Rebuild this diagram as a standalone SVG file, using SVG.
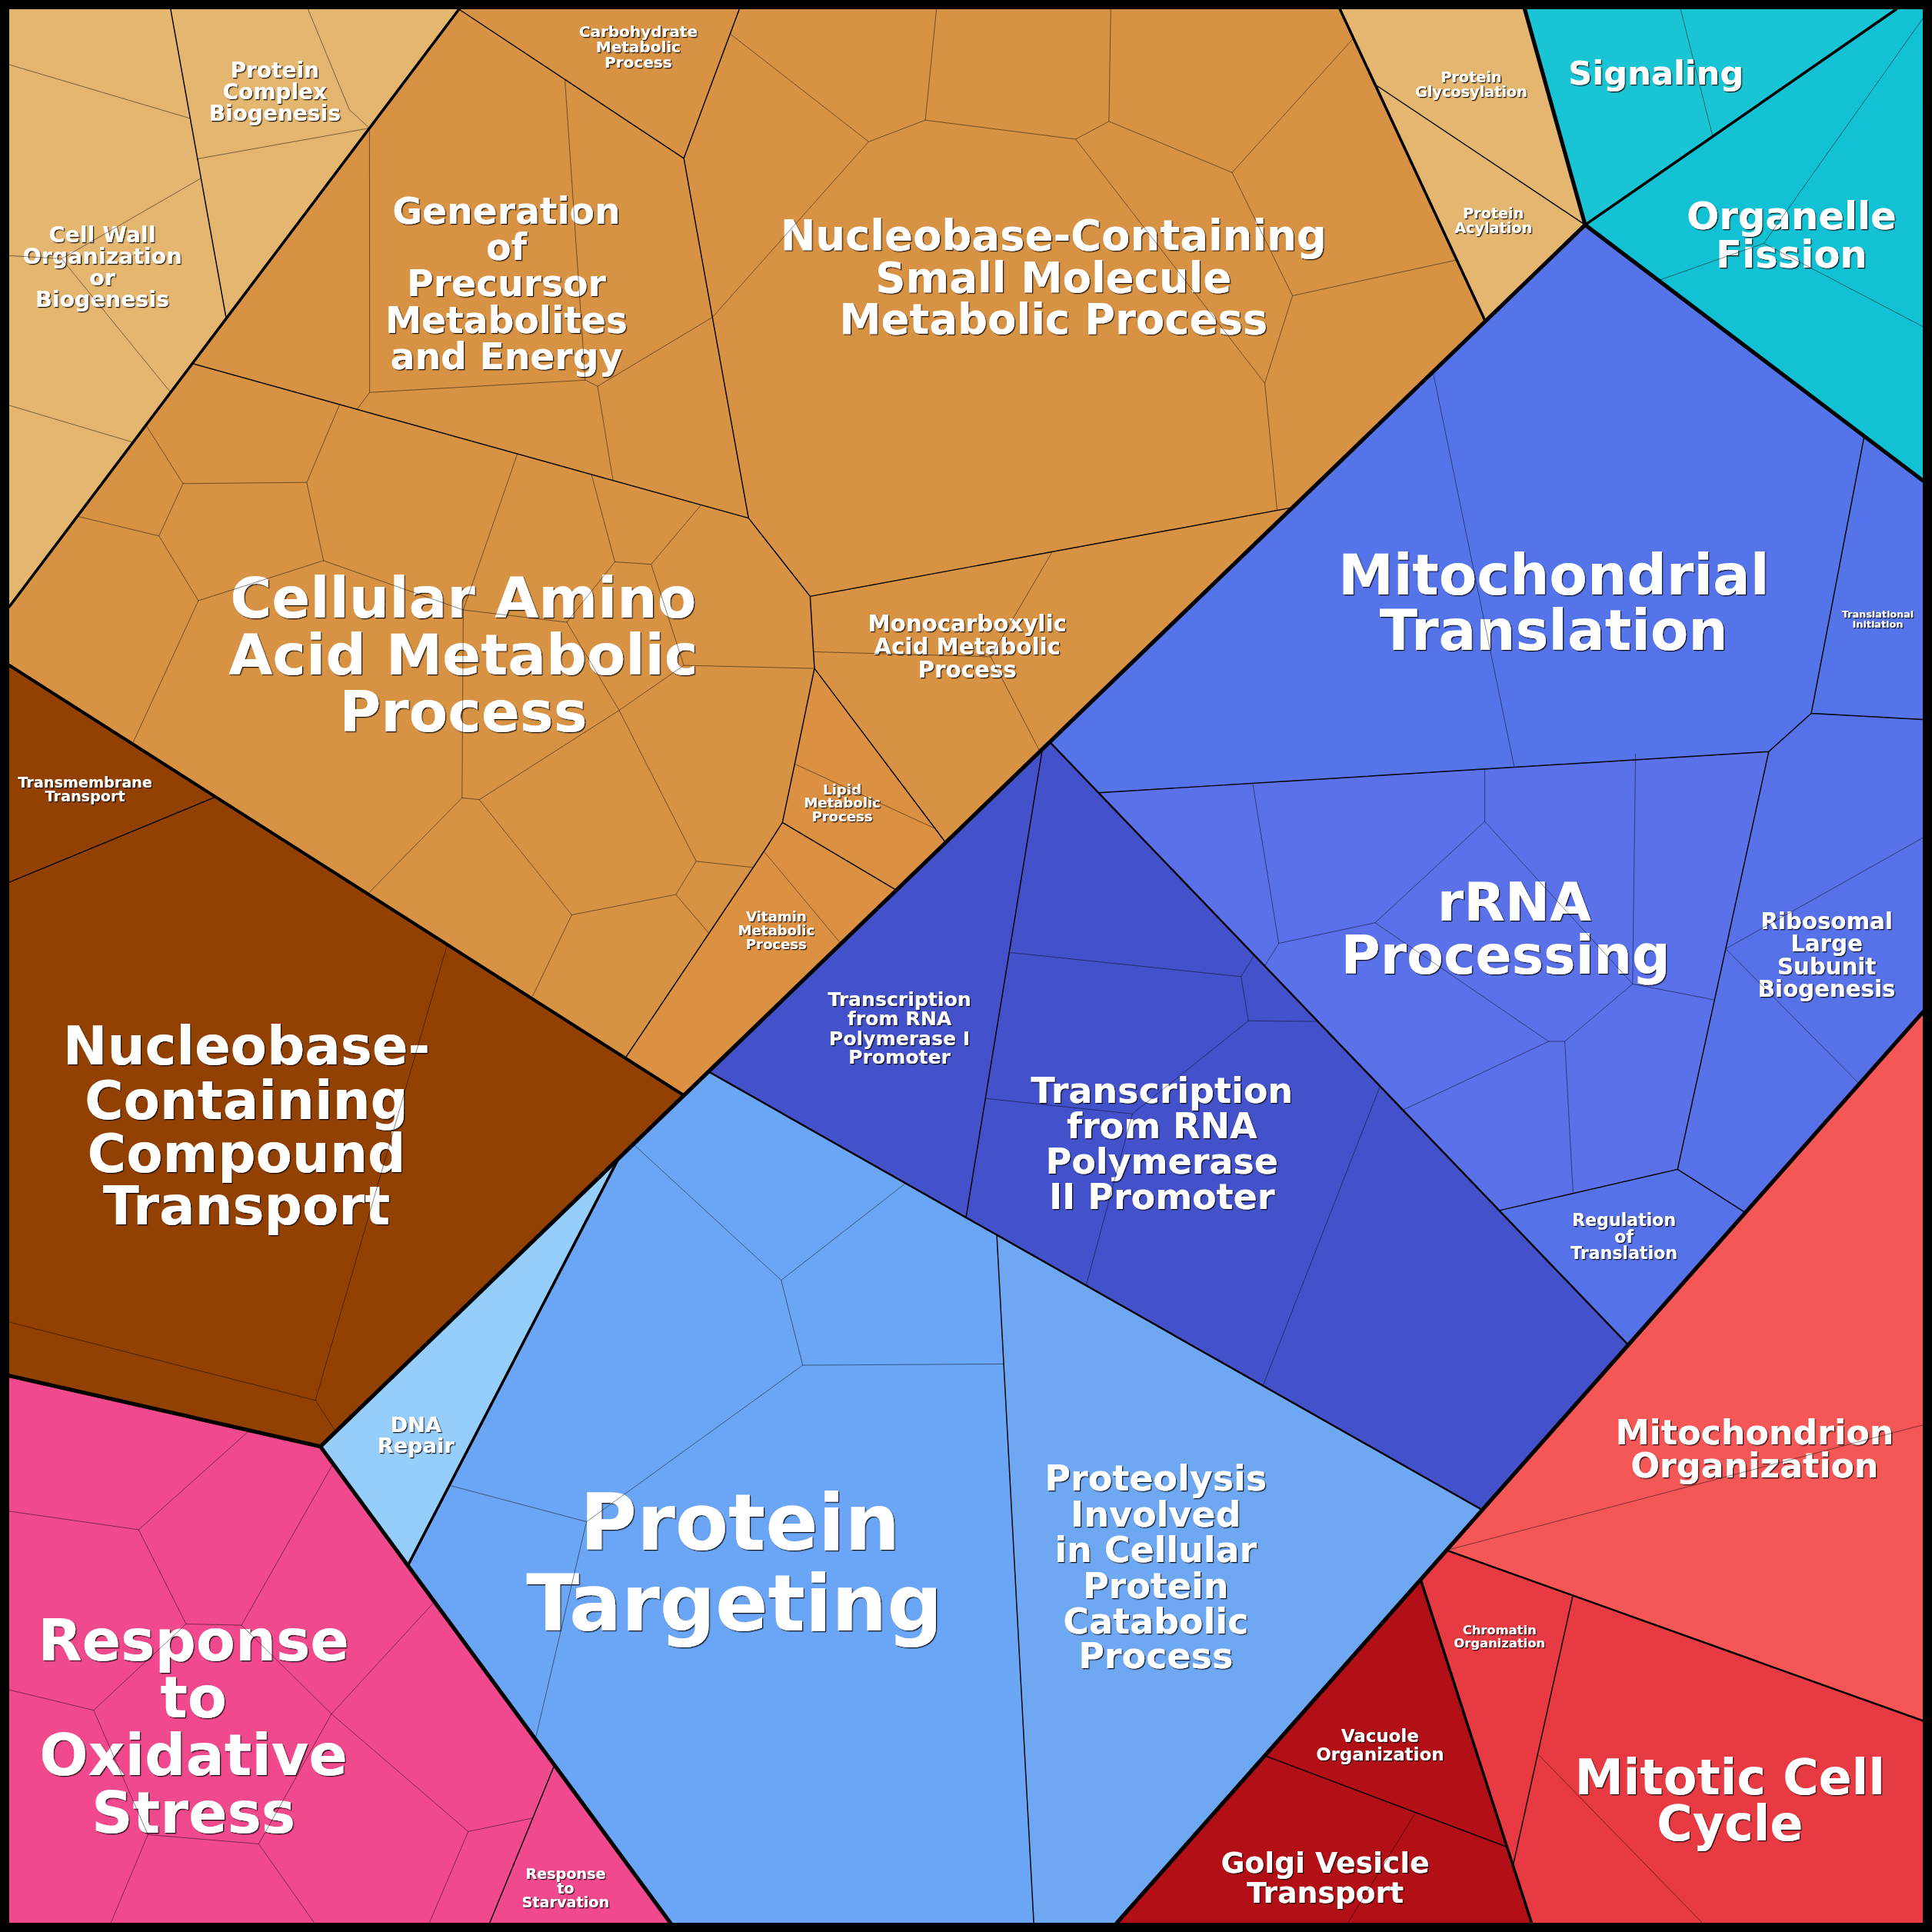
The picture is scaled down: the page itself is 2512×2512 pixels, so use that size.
<svg xmlns="http://www.w3.org/2000/svg" width="2512" height="2512" viewBox="0 0 2512 2512">
<defs>
<filter id="sh" x="-10%" y="-20%" width="125%" height="150%"><feDropShadow dx="0.8" dy="0.8" stdDeviation="0.3" flood-color="#000" flood-opacity="0.85"/></filter>
<style>
.b{fill:none;stroke:#000;stroke-linejoin:round;stroke-linecap:round}
.w1{stroke-width:3.2}
.w2{stroke-width:2.2}
.w15{stroke-width:1.5}
.w3{stroke-width:0.9}
.w4{stroke-width:0.4;stroke-opacity:0.75}
.lb{font-family:"DejaVu Sans",Verdana,sans-serif;font-weight:bold;fill:#fff;text-anchor:middle;filter:url(#sh)}
</style>
</defs>
<g transform="scale(1.6020408)">
<rect x="0" y="0" width="1568" height="1568" fill="#D89244"/>

<g id="tan-left">
<polygon points="7.5,7.5 372.5,7.5 7.5,492.5" fill="#E4B66F"/>
<text class="lb" font-size="17.5" x="223"><tspan x="223" y="63">Protein</tspan><tspan x="223" y="80.5">Complex</tspan><tspan x="223" y="98">Biogenesis</tspan></text>
<text class="lb" font-size="17.8" x="83"><tspan x="83" y="196.5">Cell Wall</tspan><tspan x="83" y="214">Organization</tspan><tspan x="83" y="231.5">or</tspan><tspan x="83" y="249">Biogenesis</tspan></text>
</g>

<g id="orange">
<polygon points="661,542.5 767.5,683.8 727.5,722.4 635,667.5 645,620" fill="#DC9142"/>
<polygon points="620,691 635,667.5 727.5,722.4 555,889 507.5,858.7" fill="#DC9142"/>
<text class="lb" font-size="29.5"><tspan x="411" y="181.5">Generation</tspan><tspan x="411" y="211">of</tspan><tspan x="411" y="240.5">Precursor</tspan><tspan x="411" y="270">Metabolites</tspan><tspan x="411" y="299.5">and Energy</tspan></text>
<text class="lb" font-size="12.5"><tspan x="518" y="30">Carbohydrate</tspan><tspan x="518" y="42.5">Metabolic</tspan><tspan x="518" y="55">Process</tspan></text>
<text class="lb" font-size="34"><tspan x="855" y="203">Nucleobase-Containing</tspan><tspan x="855" y="237">Small Molecule</tspan><tspan x="855" y="271">Metabolic Process</tspan></text>
<text class="lb" font-size="46"><tspan x="376" y="501.5">Cellular Amino</tspan><tspan x="376" y="547.5">Acid Metabolic</tspan><tspan x="376" y="593.5">Process</tspan></text>
<text class="lb" font-size="18.3"><tspan x="785" y="512.5">Monocarboxylic</tspan><tspan x="785" y="531.5">Acid Metabolic</tspan><tspan x="785" y="550">Process</tspan></text>
<text class="lb" font-size="11.3"><tspan x="683.5" y="644.5">Lipid</tspan><tspan x="683.5" y="655.7">Metabolic</tspan><tspan x="683.5" y="666.9">Process</tspan></text>
<text class="lb" font-size="11.3"><tspan x="630" y="747.6">Vitamin</tspan><tspan x="630" y="758.8">Metabolic</tspan><tspan x="630" y="770.2">Process</tspan></text>
</g>

<g id="tan-right">
<polygon points="1087.5,7.5 1237.5,7.5 1286.5,182.5 1205.5,260.7" fill="#E4B66F"/>
<text class="lb" font-size="12"><tspan x="1194" y="66.5">Protein</tspan><tspan x="1194" y="78.5">Glycosylation</tspan></text>
<text class="lb" font-size="12"><tspan x="1212" y="177">Protein</tspan><tspan x="1212" y="189">Acylation</tspan></text>
</g>

<g id="cyan">
<polygon points="1237.5,7.5 1539,7.5 1286.5,182.5" fill="#19C5D4"/>
<polygon points="1539,7.5 1560.5,7.5 1560.5,390 1286.5,182.5" fill="#12C1D3"/>
<text class="lb" font-size="27" x="1344" y="68.5">Signaling</text>
<text class="lb" font-size="31"><tspan x="1454" y="186">Organelle</tspan><tspan x="1454" y="217.5">Fission</tspan></text>
</g>

<g id="translation">
<polygon points="1286.5,182.5 1560.5,390 1560.5,821.5 1321.5,1091.6 852,602.2" fill="#5574E9"/>
<polygon points="891.5,643.4 1435.5,610 1361.5,949 1217,982.4" fill="#5A71EA"/>
<polygon points="1435.5,610 1470,579 1560.5,584 1560.5,821.5 1416.5,984.2 1361.5,949" fill="#5771E8"/>
<polygon points="1217,982.4 1361.5,949 1416.5,984.2 1321.5,1091.6" fill="#5672E8"/>
<text class="lb" font-size="45"><tspan x="1261" y="482.5">Mitochondrial</tspan><tspan x="1261" y="527.5">Translation</tspan></text>
<text class="lb" font-size="8"><tspan x="1524" y="501">Translational</tspan><tspan x="1524" y="509.5">Initiation</tspan></text>
<text class="lb" font-size="43.5"><tspan x="1229" y="747">rRNA</tspan><tspan x="1222" y="790.5">Processing</tspan></text>
<text class="lb" font-size="18.3"><tspan x="1482.5" y="754">Ribosomal</tspan><tspan x="1482.5" y="772.3">Large</tspan><tspan x="1482.5" y="790.6">Subunit</tspan><tspan x="1482.5" y="809">Biogenesis</tspan></text>
<text class="lb" font-size="13.8"><tspan x="1318" y="995">Regulation</tspan><tspan x="1318" y="1008.5">of</tspan><tspan x="1318" y="1022">Translation</tspan></text>
</g>

<g id="transcription">
<polygon points="852,602.2 1321.5,1091.6 1203,1225.5 575,869.7" fill="#4352CB"/>
<text class="lb" font-size="15.7"><tspan x="730" y="816.5">Transcription</tspan><tspan x="730" y="832.3">from RNA</tspan><tspan x="730" y="848">Polymerase I</tspan><tspan x="730" y="863.5">Promoter</tspan></text>
<text class="lb" font-size="28.7"><tspan x="943" y="895">Transcription</tspan><tspan x="943" y="924">from RNA</tspan><tspan x="943" y="952.5">Polymerase</tspan><tspan x="943" y="981.5">II Promoter</tspan></text>
</g>

<g id="protein">
<polygon points="575,869.7 1203,1225.5 906.5,1560.5 544,1560.5 260,1174 555,889" fill="#6AA6F5"/>
<polygon points="809,1002.3 1203,1225.5 906.5,1560.5 839,1560.5" fill="#6EA8F3"/>
<polygon points="502,940.2 331,1270.6 260,1174" fill="#95CDFB"/>
<text class="lb" font-size="17"><tspan x="337.5" y="1162.5">DNA</tspan><tspan x="337.5" y="1179">Repair</tspan></text>
<text class="lb" font-size="63"><tspan x="600.5" y="1258">Protein</tspan><tspan x="596" y="1323">Targeting</tspan></text>
<text class="lb" font-size="28.7"><tspan x="938" y="1210">Proteolysis</tspan><tspan x="938" y="1239">Involved</tspan><tspan x="938" y="1268">in Cellular</tspan><tspan x="938" y="1297">Protein</tspan><tspan x="938" y="1325.5">Catabolic</tspan><tspan x="938" y="1354">Process</tspan></text>
</g>

<g id="brown">
<polygon points="7.5,540 555,889 260,1174 7.5,1116.5" fill="#934103"/>
<text class="lb" font-size="12"><tspan x="69" y="639">Transmembrane</tspan><tspan x="69" y="650.5">Transport</tspan></text>
<text class="lb" font-size="43"><tspan x="200" y="864">Nucleobase-</tspan><tspan x="200" y="908">Containing</tspan><tspan x="200" y="951.5">Compound</tspan><tspan x="200" y="994">Transport</tspan></text>
</g>

<g id="pink">
<polygon points="7.5,1116.5 260,1174 544,1560.5 7.5,1560.5" fill="#F0498E"/>
<text class="lb" font-size="46.5"><tspan x="157" y="1347.5">Response</tspan><tspan x="157" y="1394">to</tspan><tspan x="157" y="1440.5">Oxidative</tspan><tspan x="157" y="1487.5">Stress</tspan></text>
<text class="lb" font-size="12"><tspan x="459" y="1525">Response</tspan><tspan x="459" y="1536.5">to</tspan><tspan x="459" y="1548">Starvation</tspan></text>
</g>

<g id="red">
<polygon points="1560.5,821.5 1560.5,1560.5 906.5,1560.5" fill="#F55757"/>
<polygon points="1174,1258.2 1560.5,1396.5 1560.5,1560.5 1243,1560.5 1153,1282" fill="#E83A42"/>
<polygon points="1153,1282 1243,1560.5 906.5,1560.5" fill="#B30F17"/>
<text class="lb" font-size="27.7"><tspan x="1424" y="1172">Mitochondrion</tspan><tspan x="1424" y="1199">Organization</tspan></text>
<text class="lb" font-size="10.2"><tspan x="1217" y="1326.5">Chromatin</tspan><tspan x="1217" y="1337">Organization</tspan></text>
<text class="lb" font-size="14.3"><tspan x="1120" y="1414">Vacuole</tspan><tspan x="1120" y="1429">Organization</tspan></text>
<text class="lb" font-size="23.5"><tspan x="1075.5" y="1520">Golgi Vesicle</tspan><tspan x="1075.5" y="1544">Transport</tspan></text>
<text class="lb" font-size="39.6"><tspan x="1404" y="1456.5">Mitotic Cell</tspan><tspan x="1404" y="1494">Cycle</tspan></text>
</g>

<g id="borders">
<path class="b w4" d="M7.5,52.5L154,96 M159.8,129L299.9,104 M250,7.5L283.5,89L299.9,104 M162.6,145L50,210L7.5,207.5 M50,210L138.5,318.5 M7.5,329L108,359
M299.9,104L300,318.5L290,331.8 M300,318.5L475,308.5L485,313.5L578.2,257.5 M458.5,64.5L475,308.5 M485,313.5L497.5,389.8
M592.6,27.5L705,115L751,97.5L760,7.5 M751,97.5L873,113L900,98.5L901.5,7.5 M900,98.5L1000,140L1098.5,31 M873,113L1026.5,311L1036.5,414.2 M1000,140L1049,240L1182.3,211 M1049,240L1026.5,311 M705,115L578.2,257.5
M118.5,345L148.5,392.5L249,391.5L275.5,328.5 M249,391.5L262.5,455 M148.5,392.5L129,435L62.8,419 M129,435L161,487.5L262.5,455 M161,487.5L107.5,603.7
M420,368.1L376,495L262.5,455 M376,495L460,505L499,456L480,384.9 M499,456L528.5,458L569,409.8 M528.5,458L555,540L661,542.5 M555,540L502.5,576.5L460,505 M376,495L375,647.5L389,649L464,742.5L432.5,808 M375,647.5L298.5,725.5 M389,649L502.5,576.5L565,699L548.5,726L464,742.5 M548.5,726L575.4,757.5 M565,699L611.3,704
M645,620L759,672.5 M620,691L682.5,765.9 M804,533L660.5,529 M804,533L854,447.8 M804,533L844,609.9
M1364,7.5L1390,110.8 M1560.5,15L1431.5,197.5L1346,227.6 M1431.5,197.5L1560.5,265
M1163,301.8L1229,622.7
M1016.8,636.5L1037.8,765.6L1116,748.9L1205,666.7L1205,624.5 M1037.8,765.6L1026.4,784 M1205,666.7L1325,798.6L1327.4,612 M1325,798.6L1391.5,811.5 M1116,748.9L1256.9,845.2L1270,845.2L1325,798.6 M1270,845.2L1276.7,968.6 M1256.9,845.2L1138.6,900.9
M1400.6,770L1560.5,680 M1400.6,770L1509,879.7
M819.1,773L1007.2,792.6L1018,775.2 M1007.2,792.6L1013.2,828.5L1069.6,829 M1013.2,828.5L919,904L799.8,891.5 M919,904L881.5,1043.3 M1120,881.6L1025,1124.7
M514,928.6L634,1039L735,960.3 M634,1039L651.5,1108L814.6,1107 M651.5,1108L476,1235L364.7,1205.5 M476,1235L434.5,1411.5
M363,766.6L256,1136.5L7.5,1073 M256,1136.5L272.5,1161.9
M7.5,1226.5L112.5,1241.5L202.5,1160.9 M112.5,1241.5L151,1318L196,1319L270.3,1188 M196,1319L269,1391L352.6,1300 M269,1391L380,1486.5L432.4,1475.5 M380,1486.5L348.5,1560.5 M7.5,1371.5L76,1388L151,1318 M76,1388L120,1489L90,1560.5 M120,1489L210,1496.5L255,1560.5 M210,1496.5L269,1391
M1174,1258.2L1560.5,1156.5 M1247.5,1423L1381.5,1560.5 M1149,1470.9L1094,1560.5"/>
<path class="b w3" d="M372.5,7.5L555,128.5L600,7.5 M555,128.5L607.5,420.5L657.5,484L1049,411.9 M156,295L607.5,420.5 M657.5,484L661,542.5L767.5,683.8 M661,542.5L645,620L635,667.5L620,691L507.5,858.7 M635,667.5L727.5,722.4
M138.5,7.5L183.6,258.5 M1115.9,68.5L1286.5,182.5 M7.5,716L175,646.8
M891.5,643.4L1435.5,610L1470,579L1560.5,584 M1470,579L1513,354 M1435.5,610L1361.5,949 M1217,982.4L1361.5,949L1416.5,984.2
M846,608L784,988.1 M809,1002.3L839,1560.5 M450,1432.5L397.5,1560.5
M1276.5,1294.9L1228,1514 M1026.5,1424.9L1223.1,1499"/>
<path class="b w15" d="M852,602.2L1321.5,1091.6 M575,869.7L1203,1225.5 M1174,1258.2L1560.5,1396.5"/>
<path class="b w2" d="M372.5,7.5L7.5,492.5 M1087.5,7.5L1205.5,260.7 M502,940.2L331,1270.6 M1153,1282L1243,1560.5 M1286.5,182.5L1539,7.5"/>
<path class="b" stroke-width="2.6" d="M7.5,540L555,889"/>
<path class="b w1" d="M1237.5,7.5L1286.5,182.5L1560.5,390 M1286.5,182.5L260,1174 M7.5,1116.5L260,1174L544,1560.5 M1560.5,821.5L906.5,1560.5"/>
<rect x="3.75" y="3.75" width="1560.5" height="1560.5" fill="none" stroke="#000" stroke-width="7.5"/>
</g>
</g>
</svg>
